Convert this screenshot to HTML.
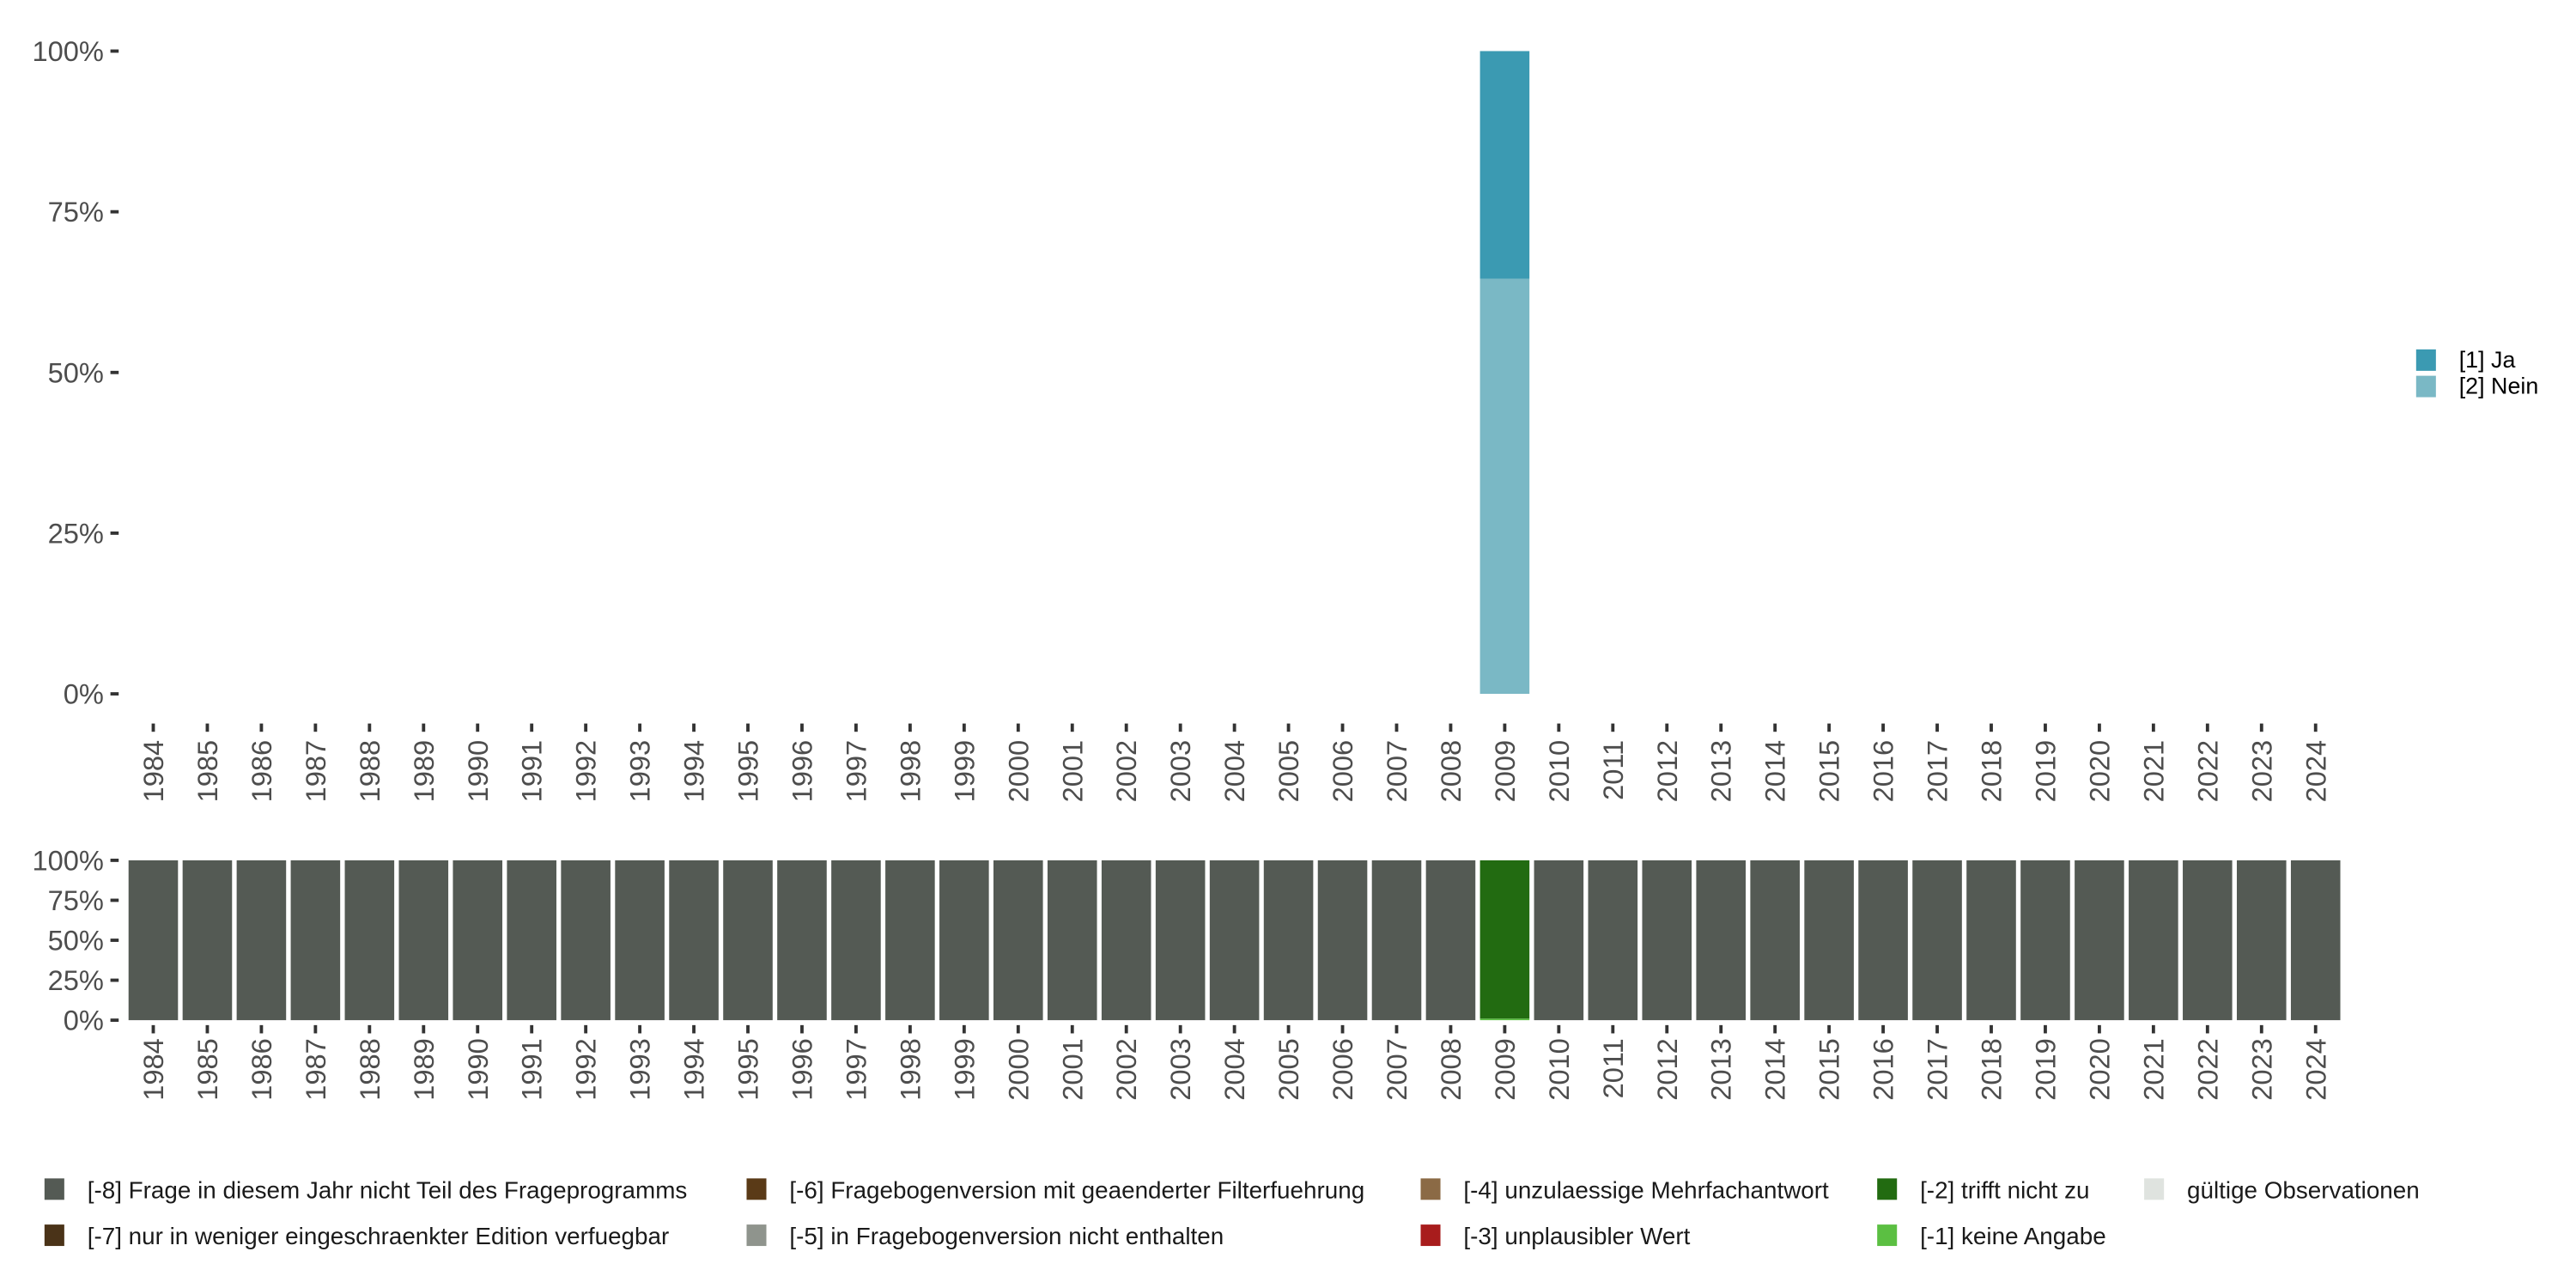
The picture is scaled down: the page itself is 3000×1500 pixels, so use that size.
<!DOCTYPE html>
<html><head><meta charset="utf-8">
<style>
html,body{margin:0;padding:0;background:#fff;}
svg{display:block;font-family:"Liberation Sans","DejaVu Sans",sans-serif;}
</style></head>
<body>
<svg id="chart" width="3000" height="1500" viewBox="0 0 1563 781.5" xmlns="http://www.w3.org/2000/svg">
<g id="top"></g>
<g id="bottom"></g>
<g id="legend-right"></g>
<g id="legend-bottom"></g>
</svg>
<script>
const years = [];
for (let y = 1984; y <= 2024; y++) years.push(y);
const yTicks = [0, 25, 50, 75, 100];
const yTickLabels = ["0%", "25%", "50%", "75%", "100%"];
// top chart: valid answers (only 2009 present)
const topYears = [2009];
const topJa = [35.4];
const topNein = [64.6];
// bottom chart: missing category shares per year
const missing8 = years.map(y => y === 2009 ? 0 : 100);
const missing2 = years.map(y => y === 2009 ? 99 : 0);
const missing1 = years.map(y => y === 2009 ? 1 : 0);
const legendBottomLabels = [
 ["[-8] Frage in diesem Jahr nicht Teil des Frageprogramms", "#545a54"],
 ["[-7] nur in weniger eingeschraenkter Edition verfuegbar", "#4a3318"],
 ["[-6] Fragebogenversion mit geaenderter Filterfuehrung", "#5a3a17"],
 ["[-5] in Fragebogenversion nicht enthalten", "#8f948d"],
 ["[-4] unzulaessige Mehrfachantwort", "#8b6a45"],
 ["[-3] unplausibler Wert", "#a81c1c"],
 ["[-2] trifft nicht zu", "#226b11"],
 ["[-1] keine Angabe", "#5bbf42"],
 ["gültige Observationen", "#dfe3df"]
];
const NS = "http://www.w3.org/2000/svg";
function mk(parent, tag, attrs, text) {
  const e = document.createElementNS(NS, tag);
  for (const k in attrs) e.setAttribute(k, attrs[k]);
  if (text !== undefined) e.textContent = text;
  parent.appendChild(e);
  return e;
}
const x0 = 93, dx = (1405 - 93) / 40, bw = 30;
function xPos(year) { return x0 + (year - 1984) * dx; }

function axes(g, yTop, yBot, tickX, xTickY, labelY, prefix) {
  const ys = v => yBot - (v / 100) * (yBot - yTop);
  yTicks.forEach((t, i) => {
    const l = mk(g, "line", {x1: tickX, x2: tickX + 5, y1: ys(t), y2: ys(t), stroke: "#333", "stroke-width": 2});
    
    
    const tx = mk(g, "text", {x: tickX - 4, y: ys(t) + 6, "text-anchor": "end", "font-size": 17, fill: "#4d4d4d"}, yTickLabels[i]);
    
    
  });
  years.forEach(y => {
    const cx = xPos(y);
    const l = mk(g, "line", {x1: cx, x2: cx, y1: xTickY, y2: xTickY + 5, stroke: "#333", "stroke-width": 2});
    
    
    const tx = mk(g, "text", {x: 0, y: 0, "text-anchor": "end", "font-size": 17, fill: "#4d4d4d", transform: `translate(${cx + 6},${labelY}) rotate(-90)`}, String(y));
    
    
  });
  return ys;
}
// top chart
const gt = document.getElementById("top");
const ysT = axes(gt, 31, 421, 67, 439, 449, "top");
topYears.forEach((y, i) => {
  const cx = xPos(y);
  let r = mk(gt, "rect", {x: cx - bw / 2, y: ysT(topNein[i]), width: bw, height: ysT(0) - ysT(topNein[i]), fill: "#7ab8c5"});
  
  
  r = mk(gt, "rect", {x: cx - bw / 2, y: ysT(topNein[i] + topJa[i]), width: bw, height: ysT(topNein[i]) - ysT(topNein[i] + topJa[i]), fill: "#3b9ab2"});
  
  
});
// bottom chart
const gb = document.getElementById("bottom");
const ysB = axes(gb, 522, 619, 67, 622, 630, "bottom");
years.forEach((y, i) => {
  const cx = xPos(y);
  let base = 0;
  [[missing1, "#5bbf42", "missing-1"], [missing2, "#226b11", "missing-2"], [missing8, "#545a54", "missing-8"]].forEach(([arr, col, nm]) => {
    const v = arr[i];
    if (v > 0) {
      const r = mk(gb, "rect", {x: cx - bw / 2, y: ysB(base + v), width: bw, height: ysB(base) - ysB(base + v), fill: col});
      
      
    }
    base += v;
  });
});
// right legend
const gl = document.getElementById("legend-right");
[["[1] Ja", "#3b9ab2", 212], ["[2] Nein", "#7ab8c5", 228]].forEach(([t, c, y]) => {
  const r = mk(gl, "rect", {x: 1466, y: y, width: 12, height: 13, fill: c});
  
  
  const tx = mk(gl, "text", {x: 1492, y: y + 11, "font-size": 14, fill: "#000"}, t);
  
  
});
// bottom legend
const glb = document.getElementById("legend-bottom");
const colX = [27, 453, 862, 1139, 1301];
const rowY = [715, 743];
legendBottomLabels.forEach(([t, c], i) => {
  const col = Math.floor(i / 2), row = i % 2;
  const x = colX[col], y = rowY[row];
  const r = mk(glb, "rect", {x: x, y: y, width: 12, height: 13, fill: c});
  
  
  const tx = mk(glb, "text", {x: x + 26, y: y + 12, "font-size": 14.5, fill: "#1a1a1a"}, t);
  
  
});
</script>
</body></html>
